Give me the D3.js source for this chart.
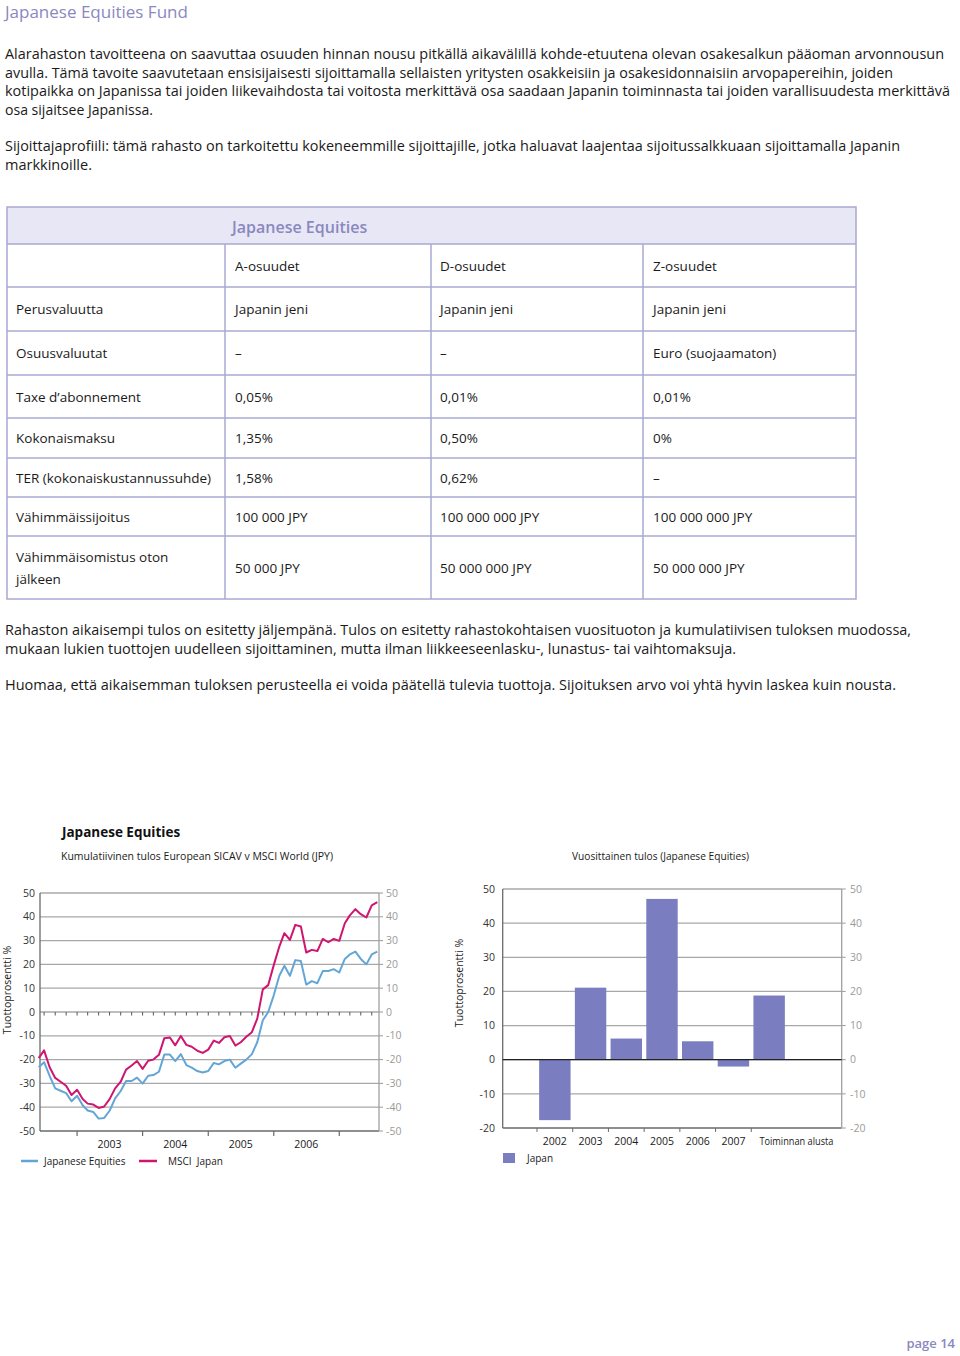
<!DOCTYPE html>
<html><head><meta charset="utf-8">
<script src="https://cdn.jsdelivr.net/npm/d3@7"></script>
<style>
body{margin:0;background:#fff}
svg{display:block}
text{font-family:"Open Sans",sans-serif}
</style>
</head><body>
<svg id="page" width="960" height="1356"></svg>
<script>
// ---------- DATA ----------
const months = ["2002-06","2002-07","2002-08","2002-09","2002-10","2002-11","2002-12",
"2003-01","2003-02","2003-03","2003-04","2003-05","2003-06","2003-07","2003-08","2003-09","2003-10","2003-11","2003-12",
"2004-01","2004-02","2004-03","2004-04","2004-05","2004-06","2004-07","2004-08","2004-09","2004-10","2004-11","2004-12",
"2005-01","2005-02","2005-03","2005-04","2005-05","2005-06","2005-07","2005-08","2005-09","2005-10","2005-11","2005-12",
"2006-01","2006-02","2006-03","2006-04","2006-05","2006-06","2006-07","2006-08","2006-09","2006-10","2006-11","2006-12",
"2007-01","2007-02","2007-03","2007-04","2007-05","2007-06","2007-07","2007-08"];
const japaneseEquities = [-23.2,-21.1,-26.8,-32.1,-33.1,-34.1,-37.5,-35.2,-39.2,-41.4,-42,-44.8,-44.5,-41.5,-36.3,-33.2,-29,-29,-27.6,-30.1,
-26.8,-26.5,-25.1,-17.9,-17.9,-20.6,-17.7,-22.3,-23.4,-24.8,-25.4,-24.8,-21.4,-22,-20.6,-20,-23.4,-21.7,-20,-17.7,-12.7,
-3.5,0,7,15.2,19.4,15.2,21.8,21.4,11.5,13,12.1,17.2,17.2,18,16.6,22.3,24.2,25.4,22.3,20,24.2,25.4];
const msciJapan = [-19.4,-16.1,-23.2,-27.7,-29.3,-31,-34.9,-32.7,-36.6,-38.5,-38.9,-40.3,-39.7,-36.6,-32.1,-29.3,-24.2,-22.5,-20.6,-23.9,
-20.5,-20,-18,-11,-10.7,-14,-10.1,-13.8,-14.6,-16.3,-17.2,-15.8,-12,-13,-10.6,-10.1,-14.1,-12.7,-10.4,-8.5,-2.8,
9.5,11.3,19.7,27.5,33.1,30.3,36.6,35.9,25,26.1,25.6,30.7,29.3,30.7,29.9,37.3,40.6,43.2,41.1,39.7,44.8,46.2];
const lineTicks = [-50,-40,-30,-20,-10,0,10,20,30,40,50];
const yearLabels = ["2003","2004","2005","2006"];

const barCategories = ["2002","2003","2004","2005","2006","2007","Toiminnan alusta"];
const barValues = [-17.7, 21.1, 6.2, 47.1, 5.4, -2.0, 18.8];
const barTicks = [-20,-10,0,10,20,30,40,50];

const tableColumns = ["", "A-osuudet", "D-osuudet", "Z-osuudet"];
const tableRows = [
  ["Perusvaluutta", "Japanin jeni", "Japanin jeni", "Japanin jeni"],
  ["Osuusvaluutat", "–", "–", "Euro (suojaamaton)"],
  ["Taxe d’abonnement", "0,05%", "0,01%", "0,01%"],
  ["Kokonaismaksu", "1,35%", "0,50%", "0%"],
  ["TER (kokonaiskustannussuhde)", "1,58%", "0,62%", "–"],
  ["Vähimmäissijoitus", "100 000 JPY", "100 000 000 JPY", "100 000 000 JPY"],
  ["Vähimmäisomistus oton\njälkeen", "50 000 JPY", "50 000 000 JPY", "50 000 000 JPY"]
];

const para1 = [
 "Alarahaston tavoitteena on saavuttaa osuuden hinnan nousu pitkällä aikavälillä kohde-etuutena olevan osakesalkun pääoman arvonnousun",
 "avulla. Tämä tavoite saavutetaan ensisijaisesti sijoittamalla sellaisten yritysten osakkeisiin ja osakesidonnaisiin arvopapereihin, joiden",
 "kotipaikka on Japanissa tai joiden liikevaihdosta tai voitosta merkittävä osa saadaan Japanin toiminnasta tai joiden varallisuudesta merkittävä",
 "osa sijaitsee Japanissa."];
const para2 = [
 "Sijoittajaprofiili: tämä rahasto on tarkoitettu kokeneemmille sijoittajille, jotka haluavat laajentaa sijoitussalkkuaan sijoittamalla Japanin",
 "markkinoille."];
const para3 = [
 "Rahaston aikaisempi tulos on esitetty jäljempänä. Tulos on esitetty rahastokohtaisen vuosituoton ja kumulatiivisen tuloksen muodossa,",
 "mukaan lukien tuottojen uudelleen sijoittaminen, mutta ilman liikkeeseenlasku-, lunastus- tai vaihtomaksuja."];
const para4 = [
 "Huomaa, että aikaisemman tuloksen perusteella ei voida päätellä tulevia tuottoja. Sijoituksen arvo voi yhtä hyvin laskea kuin nousta."];

// ---------- STYLE ----------
const LAV = "#8a88bf", GRID = "#a8a8a8", AXIS = "#6a6a6a";
const BLUE = "#63a6d6", MAGENTA = "#cf1570", BAR = "#7a7ec0";

const svg = d3.select("#page");
svg.append("rect").attr("width",960).attr("height",1356).attr("fill","#fff");

function txt(g, x, y, s, opt={}) {
  const t = g.append("text").attr("x",x).attr("y",y).text(s)
    .attr("font-size", opt.size || 13)
    .attr("fill", opt.fill || "#1a1a1a")
    .attr("text-anchor", opt.anchor || "start");
  if (opt.weight) t.attr("font-weight", opt.weight);
  if (opt.len) t.attr("textLength", opt.len).attr("lengthAdjust","spacingAndGlyphs");
  if (opt.dy) t.attr("dy", opt.dy);
  if (opt.pre) t.style("white-space","pre");
  return t;
}

// ---------- HEADER TEXT ----------
txt(svg, 5, 18, "Japanese Equities Fund", {size:17, fill:LAV});
const p1Len = [939, 888, 945, 148];
para1.forEach((s,i)=>txt(svg,5,59+i*18.7,s,{size:13.6,len:p1Len[i]}));
const p2Len = [895, 87];
para2.forEach((s,i)=>txt(svg,5,151+i*18.7,s,{size:13.6,len:p2Len[i]}));

// ---------- TABLE ----------
const tb = svg.append("g");
const colX = [7, 225, 431, 643, 856];
const rowY = [207, 244, 287, 331, 375, 418, 458, 497, 536, 599];
tb.append("rect").attr("x",colX[0]).attr("y",rowY[0]).attr("width",colX[4]-colX[0]).attr("height",rowY[1]-rowY[0])
  .attr("fill","#e7e7f5");
tb.append("rect").attr("x",colX[0]).attr("y",rowY[0]).attr("width",colX[4]-colX[0]).attr("height",rowY[9]-rowY[0])
  .attr("fill","none").attr("stroke","#a9a8d4").attr("stroke-width",1.5);
rowY.slice(1,9).forEach(y=>tb.append("line").attr("x1",colX[0]).attr("x2",colX[4]).attr("y1",y).attr("y2",y)
  .attr("stroke","#a9a8d4").attr("stroke-width",1.5));
colX.slice(1,4).forEach(x=>tb.append("line").attr("x1",x).attr("x2",x).attr("y1",rowY[1]).attr("y2",rowY[9])
  .attr("stroke","#a9a8d4").attr("stroke-width",1.5));
txt(tb, 232, 233, "Japanese Equities", {size:16, fill:LAV, weight:600});
const cellX = [16, 235, 440, 653];
tableColumns.forEach((c,j)=>txt(tb, cellX[j], (rowY[1]+rowY[2])/2+5, c, {size:13.5}));
tableRows.forEach((r,i)=>{
  const yc = (rowY[i+2]+rowY[i+3])/2;
  r.forEach((c,j)=>{
    const lines = c.split("\n");
    lines.forEach((ln,k)=>txt(tb, cellX[j], yc + 5 + (k-(lines.length-1)/2)*22, ln, {size:13.5}));
  });
});

// ---------- PARAGRAPHS BELOW TABLE ----------
const p3Len = [906, 731];
para3.forEach((s,i)=>txt(svg,5,635+i*18.5,s,{size:13.6,len:p3Len[i]}));
txt(svg,5,690,para4[0],{size:13.6,len:891});

// ---------- LINE CHART ----------
const lc = svg.append("g");
const parseM = d3.timeParse("%Y-%m");
const dates = months.map(parseM);
const lx = d3.scaleTime().domain([dates[0], dates[dates.length-1]]).range([38.7, 377.3]);
const ly = d3.scaleLinear().domain([-50,50]).range([1131, 893]);
const L0 = 40, L1 = 379;

txt(lc, 62, 837, "Japanese Equities", {size:13.5, weight:700, fill:"#111"});
txt(lc, 61, 859.5, "Kumulatiivinen tulos European SICAV v MSCI World (JPY)", {size:10, len:272});

lineTicks.forEach(v=>{
  lc.append("line").attr("x1",L0).attr("x2",L1).attr("y1",ly(v)).attr("y2",ly(v))
    .attr("stroke", v===-50 ? AXIS : GRID).attr("stroke-width", 1.3);
  txt(lc, 35, ly(v), String(v), {size:10.5, anchor:"end", dy:"0.35em", fill:"#333"});
  txt(lc, 386, ly(v), String(v), {size:10.5, dy:"0.35em", fill:"#9a9a9a"});
  lc.append("line").attr("x1",L1).attr("x2",L1+4).attr("y1",ly(v)).attr("y2",ly(v)).attr("stroke","#9a9a9a");
});
lc.append("line").attr("x1",L0).attr("x2",L0).attr("y1",ly(50)).attr("y2",ly(-50)).attr("stroke",AXIS).attr("stroke-width",1.3);
lc.append("line").attr("x1",L1).attr("x2",L1).attr("y1",ly(50)).attr("y2",ly(-50)).attr("stroke","#a0a0a0").attr("stroke-width",1.3);
// two-month ticks on zero line
lx.ticks(d3.timeMonth.every(2)).filter(d=>lx(d)>L0+4 && lx(d)<L1-1).forEach(d=>{
  lc.append("line").attr("x1",lx(d)).attr("x2",lx(d)).attr("y1",ly(0)).attr("y2",ly(0)+3.5).attr("stroke","#555").attr("stroke-width",1);
});
// year ticks on bottom axis
lx.ticks(d3.timeYear.every(1)).forEach(d=>{
  lc.append("line").attr("x1",lx(d)).attr("x2",lx(d)).attr("y1",ly(-50)).attr("y2",ly(-50)+5).attr("stroke",AXIS).attr("stroke-width",1.2);
});
yearLabels.forEach(y=>{
  txt(lc, lx(parseM(y+"-07")), 1148, y, {size:10.5, anchor:"middle"});
});
txt(lc, 0, 0, "Tuottoprosentti %", {size:10.5, anchor:"middle"}).attr("transform","translate(11,990) rotate(-90)");

const line = d3.line().x((d,i)=>lx(dates[i])).y(d=>ly(d));
lc.append("path").datum(japaneseEquities).attr("d",line).attr("fill","none").attr("stroke",BLUE).attr("stroke-width",2).attr("stroke-linejoin","round");
lc.append("path").datum(msciJapan).attr("d",line).attr("fill","none").attr("stroke",MAGENTA).attr("stroke-width",2).attr("stroke-linejoin","round");

// legend
lc.append("line").attr("x1",21).attr("x2",38).attr("y1",1161).attr("y2",1161).attr("stroke",BLUE).attr("stroke-width",2.5);
txt(lc, 44, 1165, "Japanese Equities", {size:10});
lc.append("line").attr("x1",139).attr("x2",157).attr("y1",1161).attr("y2",1161).attr("stroke",MAGENTA).attr("stroke-width",2.5);
txt(lc, 168, 1165, "MSCI  Japan", {size:10, pre:true});

// ---------- BAR CHART ----------
const bc = svg.append("g");
const B0 = 502.7, B1 = 841.7;
const bx = d3.scaleBand().domain(barCategories).range([537, 787]).paddingInner(0.12).paddingOuter(0.06);
const by = d3.scaleLinear().domain([-20,50]).range([1128, 889]);

txt(bc, 572, 859.5, "Vuosittainen tulos (Japanese Equities)", {size:10, len:177});
barTicks.forEach(v=>{
  bc.append("line").attr("x1",B0).attr("x2",B1).attr("y1",by(v)).attr("y2",by(v))
    .attr("stroke", v===-20 ? AXIS : GRID).attr("stroke-width",1.3);
  txt(bc, 495, by(v), String(v), {size:10.5, anchor:"end", dy:"0.35em", fill:"#333"});
  txt(bc, 850, by(v), String(v), {size:10.5, dy:"0.35em", fill:"#9a9a9a"});
  bc.append("line").attr("x1",B1).attr("x2",B1+4).attr("y1",by(v)).attr("y2",by(v)).attr("stroke","#9a9a9a");
});
bc.append("line").attr("x1",B0).attr("x2",B0).attr("y1",by(50)).attr("y2",by(-20)).attr("stroke",AXIS).attr("stroke-width",1.3);
bc.append("line").attr("x1",B1).attr("x2",B1).attr("y1",by(50)).attr("y2",by(-20)).attr("stroke","#a0a0a0").attr("stroke-width",1.3);

bc.selectAll("rect.bar").data(barValues).join("rect").attr("class","bar")
  .attr("x",(d,i)=>bx(barCategories[i]))
  .attr("width",bx.bandwidth())
  .attr("y",d=>by(Math.max(0,d)))
  .attr("height",d=>Math.abs(by(d)-by(0)))
  .attr("fill",BAR);
bc.append("line").attr("x1",B0).attr("x2",B1).attr("y1",by(0)).attr("y2",by(0)).attr("stroke","#222").attr("stroke-width",1.3);

const half = bx.step()*bx.paddingInner()/2;
barCategories.forEach(c=>{
  const tx = bx(c)-half;
  bc.append("line").attr("x1",tx).attr("x2",tx).attr("y1",by(-20)).attr("y2",by(-20)+4).attr("stroke",AXIS);
  if (c.length>4) txt(bc, bx(c)+6, 1145, c, {size:10.5, len:74});
  else txt(bc, bx(c)+bx.bandwidth()/2, 1145, c, {size:10.5, anchor:"middle"});
});
txt(bc, 0, 0, "Tuottoprosentti %", {size:10.5, anchor:"middle"}).attr("transform","translate(463,983) rotate(-90)");
bc.append("rect").attr("x",503).attr("y",1153).attr("width",12).attr("height",10).attr("fill",BAR);
txt(bc, 527, 1162, "Japan", {size:10});

// page number
txt(svg, 955, 1348, "page 14", {size:13, fill:LAV, weight:600, anchor:"end"});
</script>
</body></html>
